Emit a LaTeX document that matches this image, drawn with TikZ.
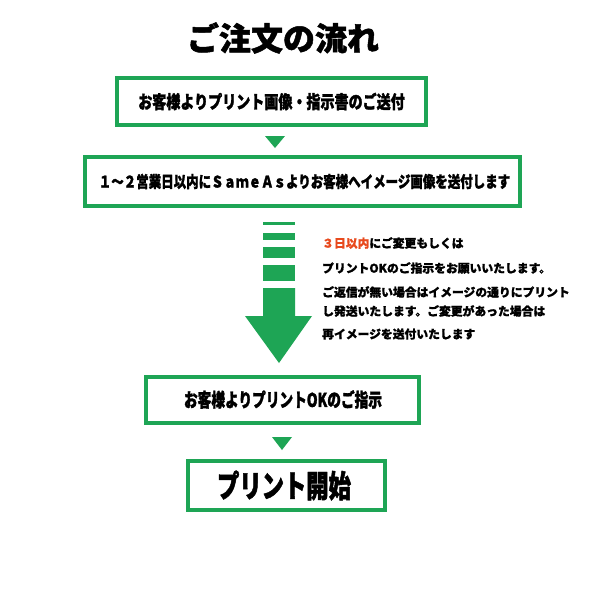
\documentclass[tikz,border=0pt]{standalone}
\usepackage{fontspec}
\newfontfamily\jpb{Noto Sans CJK JP Black}[FakeBold=1.2]
\newfontfamily\jpk{Noto Sans CJK JP Black}[FakeBold=1.5]
\newfontfamily\jpbc{Noto Sans CJK JP Black}[FakeStretch=0.78,FakeBold=1.5]
\newfontfamily\jpkc{Noto Sans CJK JP Black}[FakeStretch=0.72,FakeBold=1.5]
\definecolor{grn}{RGB}{30,165,85}
\definecolor{rd}{RGB}{232,74,30}
\tikzset{
  stepbox/.style={draw=grn,line width=4pt,fill=white,inner sep=0pt},
  tri/.style={fill=grn,draw=none},
  note/.style={anchor=west,inner sep=0pt,font=\jpb\fontsize{11.8}{12}\selectfont}
}
\begin{document}
\begin{tikzpicture}[x=1pt,y=-1pt]
\useasboundingbox[fill=white] (0,0) rectangle (596,598);
% title
\node[inner sep=0pt,font=\jpk\fontsize{32}{34}\selectfont] (title) at (283,38) {ご注文の流れ};
% boxes
\draw[stepbox] (117,78) rectangle (426,125);
\node[inner sep=0pt,font=\jpbc\fontsize{18}{20}\selectfont] (t1) at (271.5,101.5) {お客様よりプリント画像・指示書のご送付};
\draw[stepbox] (85,157) rectangle (520,206);
\node[inner sep=0pt,font=\jpbc\fontsize{16}{18}\selectfont] (t2) at (304.5,181.5) {１～２営業日以内にＳａｍｅＡｓよりお客様へイメージ画像を送付します};
\draw[stepbox] (146,377) rectangle (419,423);
\node[inner sep=0pt,font=\jpkc\fontsize{19}{21}\selectfont] (t3) at (283,399.5) {お客様よりプリントOKのご指示};
\draw[stepbox] (188,461) rectangle (385,510);
\node[inner sep=0pt,font=\jpkc\fontsize{31}{33}\selectfont] (t4) at (284,485.5) {プリント開始};
% small triangles
\fill[tri] (265,136) -- (285,136) -- (275,148) -- cycle;
\fill[tri] (272,437) -- (292,437) -- (282,450) -- cycle;
% big striped arrow
\fill[grn] (263,222) rectangle (295,225);
\fill[grn] (263,233) rectangle (295,240);
\fill[grn] (263,247) rectangle (295,258);
\fill[grn] (263,265) rectangle (295,281);
\fill[grn] (263,288) -- (295,288) -- (295,316) -- (312,316) -- (279,363) -- (245,316) -- (263,316) -- cycle;
% note text
\node[note] (n1) at (322,243) {\textcolor{rd}{３日以内}にご変更もしくは};
\node[note] (n2) at (322,268) {プリントOKのご指示をお願いいたします。};
\node[note] (n3) at (322,292) {ご返信が無い場合はイメージの通りにプリント};
\node[note] (n4) at (322,311) {し発送いたします。ご変更があった場合は};
\node[note] (n5) at (322,334) {再イメージを送付いたします};
\end{tikzpicture}
\end{document}
